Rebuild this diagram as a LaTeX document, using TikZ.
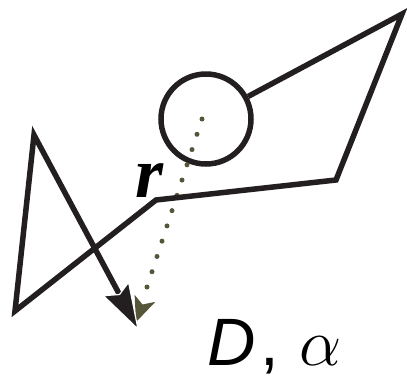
\RequirePackage{fix-cm}
\documentclass[tikz,border=0pt]{standalone}
\usepackage{fontspec}
\usetikzlibrary{arrows.meta,calc}
\newfontfamily\serifam{Liberation Serif}
\newfontfamily\sansfam{Liberation Sans}
\definecolor{olivedot}{HTML}{55553A}
\definecolor{ink}{HTML}{231F20}
\tikzset{
  edge/.style={draw=ink, line width=5.5pt, line join=miter},
  ring/.style={circle, draw=ink, line width=5.5pt, minimum size=90pt, inner sep=0pt},
  dotline/.style={draw=olivedot, line width=5pt, line cap=round, dash pattern=on 0pt off 16.07pt},
  lbl/.style={inner sep=0pt, text=black}
}
\begin{document}
\begin{tikzpicture}[x=1pt,y=-1pt]
\useasboundingbox (0,0) rectangle (407,376);
\coordinate (tr) at (402,14);
\coordinate (br) at (336,180);
\coordinate (m) at (156,200);
\coordinate (bl) at (15,311);
\coordinate (tl) at (34,135);
\coordinate (tip) at (138,329);
\coordinate (bnotch) at (119.5,294.5);
\coordinate (bl1) at (103.4,295.7);
\coordinate (br1) at (128.6,282.3);
\coordinate (cc) at (206,119);
\coordinate (d0) at (202,119);
\coordinate (d1) at (147,287);
\coordinate (gtip) at (136,322);
\coordinate (gl) at (134.6,294.8);
\coordinate (gr) at (155.4,301.8);
\coordinate (gn) at (142.5,304.5);
\node[ring] (c) at (cc) {};
% dotted radius arrow
\draw[dotline] (d0) -- (d1);
\path[fill=olivedot] (gtip) -- (gl) -- (gn) -- (gr) -- cycle;
% polyline
\draw[edge] (c) -- (tr) -- (br) -- (m) -- (bl) -- (tl) -- (bnotch);
\path[fill=ink, draw=white, line width=1.2pt, line join=miter] (tip) -- (bl1) -- (bnotch) -- (br1) -- cycle;
\node[lbl, anchor=base, font=\serifam\itshape\bfseries\fontsize{72}{72}\selectfont] (r) at (150,197) {r};
\node[lbl, anchor=base west, font=\fontsize{67}{67}\selectfont] (d) at (207,365) {{\sansfam\itshape D\kern5pt\upshape,}\kern20pt$\alpha$};
\end{tikzpicture}
\end{document}
